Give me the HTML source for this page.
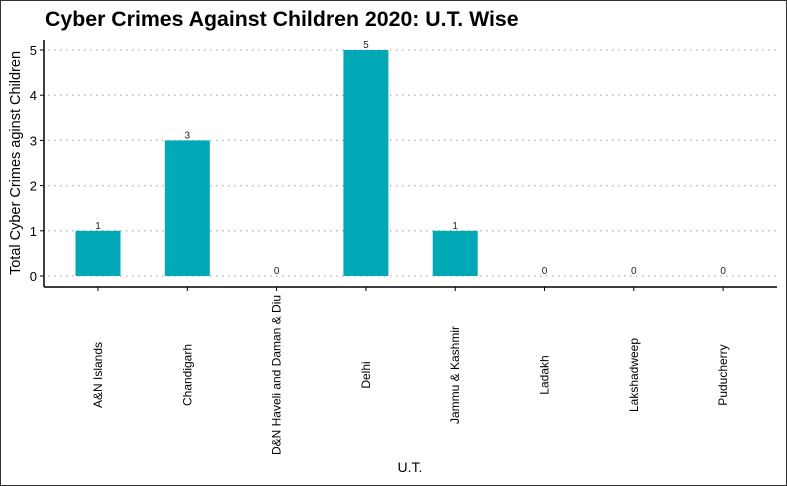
<!DOCTYPE html>
<html><head><meta charset="utf-8"><style>
body{margin:0;background:#fff}
svg{display:block;font-family:"Liberation Sans",sans-serif}
</style></head><body>
<svg id="c" width="787" height="486">
<rect x="0.5" y="0.5" width="786" height="485" fill="#fff" stroke="#333"/>
<text x="45" y="26" font-size="21.3" font-weight="bold" fill="#000">Cyber Crimes Against Children 2020: U.T. Wise</text>
<text transform="translate(20,163) rotate(-90)" text-anchor="middle" font-size="14.5" fill="#000">Total Cyber Crimes aginst Children</text>
<text x="410" y="472" text-anchor="middle" font-size="14" fill="#000">U.T.</text>
<g id="g"></g>
</svg>
<script>
const categories=["A&N Islands","Chandigarh","D&N Haveli and Daman & Diu","Delhi","Jammu & Kashmir","Ladakh","Lakshadweep","Puducherry"];
const values=[1,3,0,5,1,0,0,0];
const yTicks=[0,1,2,3,4,5];
const NS="http://www.w3.org/2000/svg";
const g=document.getElementById('g');
const x0=44,x1=777,yAxisBottom=287;
const y=v=>276-v*45.2;
const x=i=>98+i*89.3;
function el(t,a,txt){const e=document.createElementNS(NS,t);for(const k in a)e.setAttribute(k,a[k]);if(txt!==undefined)e.textContent=txt;g.appendChild(e);return e;}
yTicks.forEach(t=>{
 const l=el('line',{x1:x0+4,x2:x1,y1:y(t),y2:y(t),stroke:'#bbb','stroke-width':1.5,'stroke-dasharray':'1.5 4.5'});
 
 
 const tk=el('line',{x1:x0-4,x2:x0,y1:y(t),y2:y(t),stroke:'#000','stroke-width':1});
 
 
 const tx=el('text',{x:x0-7,y:y(t)+5,'text-anchor':'end','font-size':13,fill:'#000'},String(t));
 
 
});
categories.forEach((c,i)=>{
 const v=values[i];
 if(v>0){const b=el('rect',{x:x(i)-22.5,y:y(v),width:45,height:y(0)-y(v),fill:'#00a9b5'});
 
 }
 const lb=el('text',{x:x(i),y:y(v)-2,'text-anchor':'middle','font-size':10,fill:'#222'},String(v));
 
 
 const tk=el('line',{x1:x(i),x2:x(i),y1:yAxisBottom,y2:yAxisBottom+4,stroke:'#000'});
 
 
 const tx=el('text',{transform:`translate(${x(i)+4},375) rotate(-90)`,'text-anchor':'middle','font-size':12,fill:'#000'},c);
 
 
});
const ya=el('line',{x1:x0,x2:x0,y1:40,y2:yAxisBottom,stroke:'#000','stroke-width':1.5});


const xa=el('line',{x1:x0,x2:x1,y1:yAxisBottom,y2:yAxisBottom,stroke:'#000','stroke-width':1.5});


</script>
</body></html>
